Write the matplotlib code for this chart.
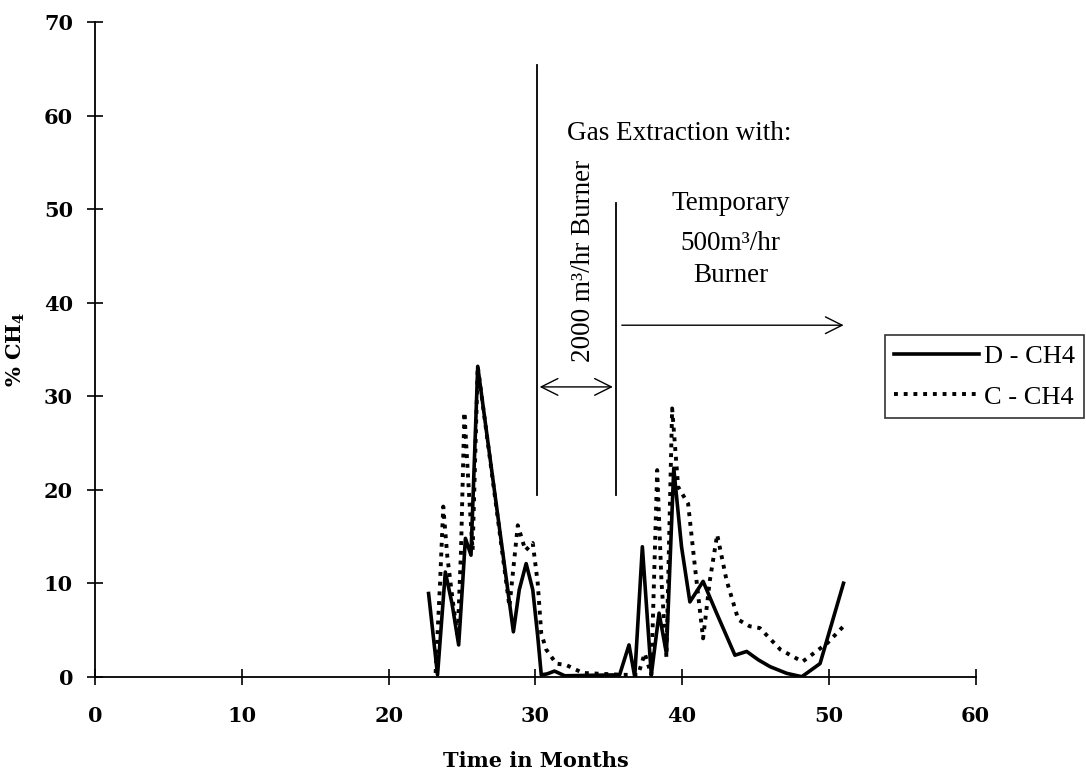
import matplotlib
matplotlib.use("Agg")
import matplotlib.pyplot as plt

plt.rcParams["font.family"] = ["Liberation Serif", "DejaVu Serif"]
plt.rcParams["mathtext.fontset"] = "custom"
plt.rcParams["mathtext.rm"] = "DejaVu Serif:bold"
plt.rcParams["mathtext.bf"] = "DejaVu Serif:bold"

# D - CH4 (solid)
d_month = [22.72, 23.33, 23.86, 24.32, 24.77, 25.04, 25.23, 25.61, 26.07, 28.5, 28.9, 29.37,
           29.82, 30.16, 30.4, 30.8, 31.3, 32.0, 35.74, 36.38, 36.77, 37.29, 37.9, 38.43,
           38.93, 39.43, 39.96, 40.53, 41.43, 42.35, 43.6, 44.4, 45.2, 46.0, 47.13, 48.16,
           49.4, 51.0]
d_ch4 = [8.9, 0.2, 11.2, 7.8, 3.4, 10.0, 14.8, 13.0, 33.2, 4.8, 9.3, 12.1,
         9.3, 4.3, 0.2, 0.3, 0.6, 0.1, 0.2, 3.4, 0.0, 13.9, 0.2, 6.8,
         2.5, 22.3, 13.9, 8.0, 10.2, 6.8, 2.3, 2.7, 1.8, 1.07, 0.36, 0.0,
         1.4, 10.0]

# C - CH4 (dotted)
c_month = [23.2, 23.5, 23.72, 24.0, 24.36, 24.7, 24.93, 25.16, 25.5, 25.72, 26.07, 28.23,
           28.8, 29.32, 29.82, 30.16, 30.4, 30.74, 31.42, 32.1, 33.24, 36.0, 37.0, 37.45,
           37.9, 38.3, 38.59, 38.93, 39.32, 39.73, 40.41, 40.87, 41.43, 41.89, 42.39, 43.03,
           43.83, 44.6, 45.3, 46.7, 48.2, 49.9, 51.0]
c_ch4 = [0.4, 10.0, 18.2, 12.8, 8.2, 4.3, 13.5, 28.3, 18.9, 13.5, 33.2, 7.5,
         16.2, 13.5, 14.3, 10.0, 4.6, 2.9, 1.4, 1.25, 0.4, 0.2, 0.2, 2.5,
         0.2, 22.1, 10.3, 2.1, 28.7, 20.3, 18.5, 11.8, 4.1, 10.3, 15.2, 10.3,
         6.1, 5.4, 5.2, 2.9, 1.6, 3.6, 5.4]

x_ticks = [0, 10, 20, 30, 40, 50, 60]
y_ticks = [0, 10, 20, 30, 40, 50, 60, 70]

fig = plt.figure(figsize=(10.86, 7.78), dpi=100)
ax = fig.add_axes([0.0877, 0.1302, 0.8106, 0.8411])

ax.plot(d_month, d_ch4, color="black", lw=2.6, solid_joinstyle="round", label="D - CH4")
ax.plot(c_month, c_ch4, color="black", lw=2.8, linestyle=(0, (1, 1.5)), label="C - CH4")

ax.set_xlim(0, 60)
ax.set_ylim(0, 70)
ax.set_xticks(x_ticks)
ax.set_yticks(y_ticks)
for s in ["top", "right"]:
    ax.spines[s].set_visible(False)
ax.spines["left"].set_linewidth(1.3)
ax.spines["bottom"].set_linewidth(1.3)
ax.tick_params(direction="inout", length=12, width=1.2, labelsize=15)
ax.tick_params(axis="x", pad=15)
ax.tick_params(axis="y", pad=10)
for lbl in ax.get_xticklabels() + ax.get_yticklabels():
    lbl.set_fontfamily("DejaVu Serif")
    lbl.set_fontweight("bold")

ax.set_xlabel("Time in Months", fontsize=15, fontweight="bold", family="DejaVu Serif", labelpad=18)
ax.set_ylabel("% CH$_4$", fontsize=15, fontweight="bold", family="DejaVu Serif", labelpad=12)

# annotations
ax.plot([30.1, 30.1], [19.4, 65.4], color="black", lw=1.3, clip_on=False)
ax.plot([35.47, 35.47], [19.4, 50.7], color="black", lw=1.3, clip_on=False)
ax.annotate("", xy=(30.1, 31), xytext=(35.47, 31),
            arrowprops=dict(arrowstyle="<->", color="black", lw=1.0, mutation_scale=30))
ax.annotate("", xy=(51.2, 37.6), xytext=(35.7, 37.6),
            arrowprops=dict(arrowstyle="->", color="black", lw=1.0, mutation_scale=30))
ax.text(39.8, 58.1, "Gas Extraction with:", fontsize=19.5, ha="center", va="center")
ax.text(33.3, 44.5, "2000 m³/hr Burner", fontsize=19.5, ha="center", va="center", rotation=90)
ax.text(43.3, 50.6, "Temporary", fontsize=19.5, ha="center", va="center")
ax.text(43.3, 46.3, "500m³/hr", fontsize=19.5, ha="center", va="center")
ax.text(43.3, 42.9, "Burner", fontsize=19.5, ha="center", va="center")

leg = fig.legend(loc="upper left", bbox_to_anchor=(0.815, 0.569), fontsize=19,
                 frameon=True, fancybox=False, edgecolor="black", handlelength=3.2,
                 handletextpad=0.2, borderpad=0.35, labelspacing=0.65, borderaxespad=0)
leg.get_frame().set_linewidth(1.2)

fig.savefig("out.png", dpi=100)
